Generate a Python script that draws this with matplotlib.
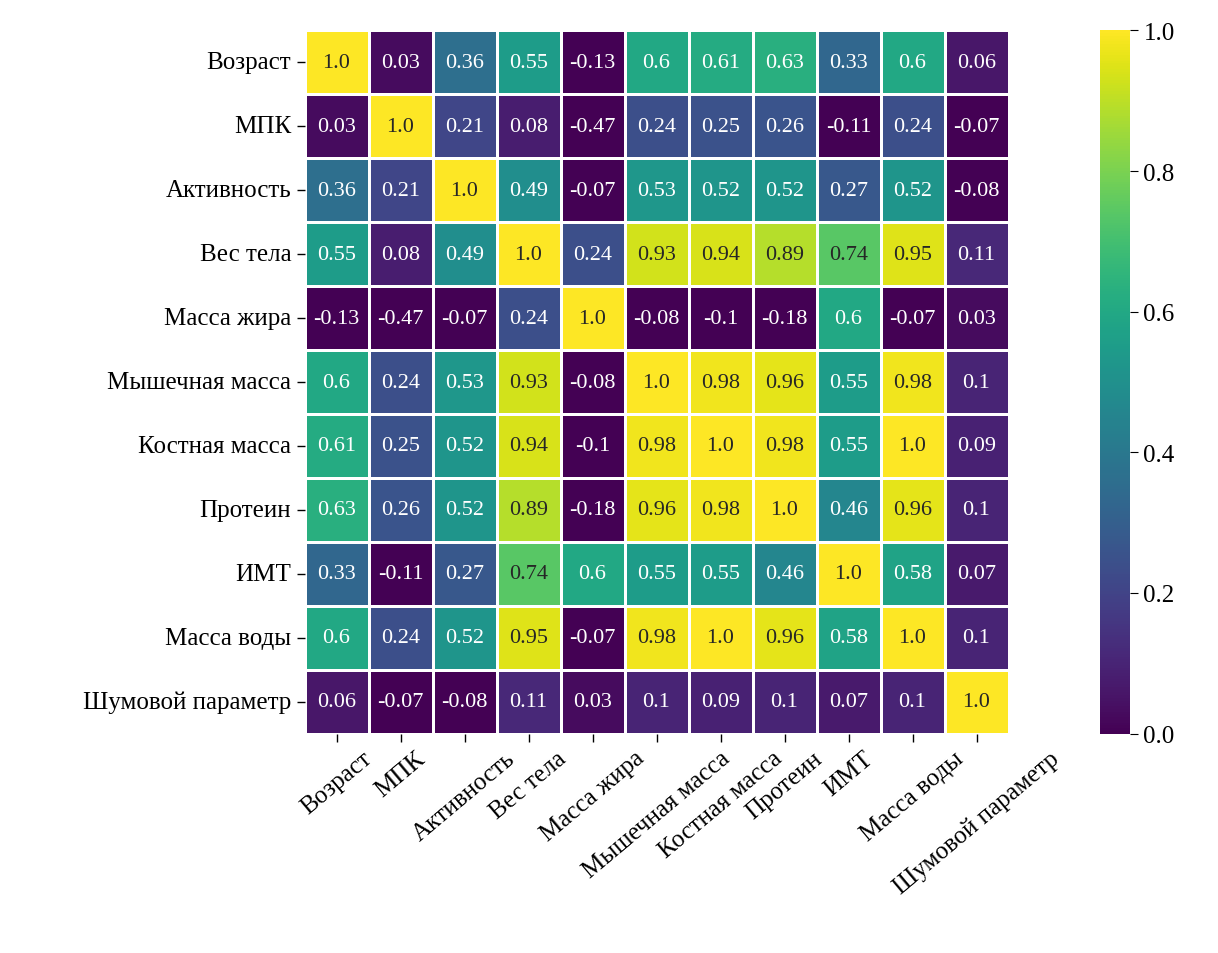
import numpy as np
import matplotlib
matplotlib.use("Agg")
import matplotlib.pyplot as plt
import seaborn as sns

labels = ["Возраст", "МПК", "Активность", "Вес тела", "Масса жира", "Мышечная масса",
          "Костная масса", "Протеин", "ИМТ", "Масса воды", "Шумовой параметр"]

corr = np.array([
    [1.0, 0.03, 0.36, 0.55, -0.13, 0.6, 0.61, 0.63, 0.33, 0.6, 0.06],
    [0.03, 1.0, 0.21, 0.08, -0.47, 0.24, 0.25, 0.26, -0.11, 0.24, -0.07],
    [0.36, 0.21, 1.0, 0.49, -0.07, 0.53, 0.52, 0.52, 0.27, 0.52, -0.08],
    [0.55, 0.08, 0.49, 1.0, 0.24, 0.93, 0.94, 0.89, 0.74, 0.95, 0.11],
    [-0.13, -0.47, -0.07, 0.24, 1.0, -0.08, -0.1, -0.18, 0.6, -0.07, 0.03],
    [0.6, 0.24, 0.53, 0.93, -0.08, 1.0, 0.98, 0.96, 0.55, 0.98, 0.1],
    [0.61, 0.25, 0.52, 0.94, -0.1, 0.98, 1.0, 0.98, 0.55, 1.0, 0.09],
    [0.63, 0.26, 0.52, 0.89, -0.18, 0.96, 0.98, 1.0, 0.46, 0.96, 0.1],
    [0.33, -0.11, 0.27, 0.74, 0.6, 0.55, 0.55, 0.46, 1.0, 0.58, 0.07],
    [0.6, 0.24, 0.52, 0.95, -0.07, 0.98, 1.0, 0.96, 0.58, 1.0, 0.1],
    [0.06, -0.07, -0.08, 0.11, 0.03, 0.1, 0.09, 0.1, 0.07, 0.1, 1.0],
])

plt.rcParams["font.family"] = ["Liberation Serif", "DejaVu Serif"]
plt.rcParams["font.size"] = 18

annot = np.array([[str(v) for v in row] for row in corr])

fig = plt.figure(figsize=(12.18, 9.54), dpi=100)
ax = fig.add_axes([0.25, 0.23, 0.578, 0.737])
cax = fig.add_axes([0.903, 0.23, 0.025, 0.737])
sns.heatmap(corr, ax=ax, cbar_ax=cax, cmap="viridis", vmin=0, vmax=1,
            annot=annot, fmt="", annot_kws={"size": 16},
            linewidths=2, linecolor="white",
            xticklabels=labels, yticklabels=labels)
ax.tick_params(axis="both", labelsize=18, length=6, width=1)
plt.setp(ax.get_xticklabels(), rotation=40, ha="center")
plt.setp(ax.get_yticklabels(), rotation=0)
cax.tick_params(labelsize=18, length=6)
cax.set_yticks([0, 0.2, 0.4, 0.6, 0.8, 1.0])
cax.set_yticklabels(["0.0", "0.2", "0.4", "0.6", "0.8", "1.0"])

fig.savefig("out.png", dpi=100)
